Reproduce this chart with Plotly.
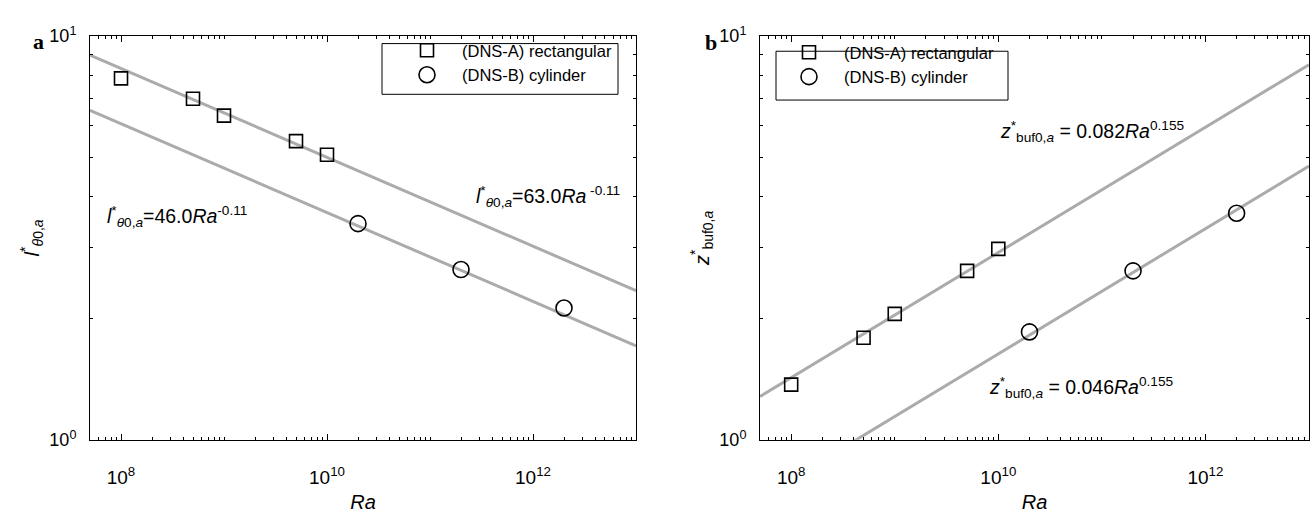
import numpy as np
import plotly.graph_objects as go

# Rayleigh numbers of the two simulation campaigns
ra_rect = [1e8, 5e8, 1e9, 5e9, 1e10]
ra_cyl = [2e10, 2e11, 2e12]

# panel a: thermal length scale l*_{theta0,a}
l_rect = [7.85, 6.99, 6.35, 5.49, 5.08]
l_cyl = [3.43, 2.64, 2.12]

# panel b: buffer-layer height z*_{buf0,a}
z_rect = [1.37, 1.79, 2.05, 2.62, 2.97]
z_cyl = [1.85, 2.62, 3.64]

# power-law fits  c * Ra^p
l_fit_coef = [63.0, 46.0]
l_fit_exp = -0.11
z_fit_coef = [0.082, 0.046]
z_fit_exp = 0.155

ra_span = [5e7, 1e13]

x_ticks = [1e8, 1e10, 1e12]
x_ticktext = ["10<sup>8</sup>", "10<sup>10</sup>", "10<sup>12</sup>"]
y_ticks = [1, 10]
y_ticktext = ["10<sup>0</sup>", "10<sup>1</sup>"]

x_minor = [m * 10.0 ** k for k in range(7, 13) for m in range(1, 10)
           if 5e7 <= m * 10.0 ** k <= 1e13 and m * 10.0 ** k not in x_ticks]
y_minor = [float(m) for m in range(2, 10)]

W, H = 1313, 513
FONT = "Liberation Sans, Arial, sans-serif"
GREY = "#ababab"


def px_x(p):
    return p / W


def px_y(p):
    return 1 - p / H


fig = go.Figure()

span = np.array(ra_span)
for ax, coefs, expo in (("", l_fit_coef, l_fit_exp), ("2", z_fit_coef, z_fit_exp)):
    for c in coefs:
        fig.add_trace(go.Scatter(
            x=span, y=c * span ** expo, mode="lines",
            line=dict(color=GREY, width=3), showlegend=False,
            xaxis="x" + ax, yaxis="y" + ax, hoverinfo="skip"))

square = dict(symbol="square-open", size=13, color="black", line=dict(width=1.6, color="black"))
circle = dict(symbol="circle-open", size=16, color="black", line=dict(width=1.6, color="black"))

fig.add_trace(go.Scatter(x=ra_rect, y=l_rect, mode="markers", marker=square,
                         name="(DNS-A) rectangular", legend="legend"))
fig.add_trace(go.Scatter(x=ra_cyl, y=l_cyl, mode="markers", marker=circle,
                         name="(DNS-B) cylinder", legend="legend"))
fig.add_trace(go.Scatter(x=ra_rect, y=z_rect, mode="markers", marker=square,
                         name="(DNS-A) rectangular", legend="legend2",
                         xaxis="x2", yaxis="y2"))
fig.add_trace(go.Scatter(x=ra_cyl, y=z_cyl, mode="markers", marker=circle,
                         name="(DNS-B) cylinder", legend="legend2",
                         xaxis="x2", yaxis="y2"))

y_dom = [px_y(447), px_y(25)]
xa = dict(type="log", range=[np.log10(ra_span[0]), np.log10(ra_span[1])],
          tickvals=x_ticks, ticktext=x_ticktext, ticks="inside", ticklen=6,
          tickcolor="black", showline=True, linecolor="black", linewidth=1,
          mirror="ticks", showgrid=False, zeroline=False,
          tickfont=dict(family=FONT, size=19, color="black"),
          ticklabelstandoff=20,
          minor=dict(tickvals=x_minor, ticks="inside", ticklen=3, tickcolor="black",
                     showgrid=False),
          title=dict(text="<i>Ra</i>", font=dict(family=FONT, size=20, color="black"),
                     standoff=8))
ya = dict(type="log", range=[0, 1], tickvals=y_ticks, ticktext=y_ticktext,
          ticks="inside", ticklen=6, tickcolor="black", showline=True,
          linecolor="black", linewidth=1, mirror="ticks", showgrid=False,
          zeroline=False, tickfont=dict(family=FONT, size=18, color="black"),
          ticklabelstandoff=9,
          minor=dict(tickvals=y_minor, ticks="inside", ticklen=3, tickcolor="black",
                     showgrid=False))

fig.update_layout(
    width=W, height=H, margin=dict(l=0, r=0, t=0, b=0),
    paper_bgcolor="white", plot_bgcolor="white",
    font=dict(family=FONT, color="black"),
    xaxis=dict(xa, domain=[px_x(90), px_x(636)], anchor="y"),
    yaxis=dict(ya, domain=y_dom, anchor="x",
               title=dict(text="<i>l</i><sup>*</sup><sub><i>θ</i>0,<i>a</i></sub>",
                          font=dict(family=FONT, size=20, color="black"), standoff=4)),
    xaxis2=dict(xa, domain=[px_x(760), px_x(1309)], anchor="y2"),
    yaxis2=dict(ya, domain=y_dom, anchor="x2",
                title=dict(text="<i>z</i><sup>*</sup><sub>buf0,<i>a</i></sub>",
                           font=dict(family=FONT, size=20, color="black"), standoff=4)),
    legend=dict(x=px_x(392), y=px_y(22), xanchor="left", yanchor="top",
                bgcolor="rgba(0,0,0,0)", borderwidth=0, itemwidth=60,
                font=dict(family=FONT, size=16.5, color="black"), tracegroupgap=0),
    legend2=dict(x=px_x(774), y=px_y(24), xanchor="left", yanchor="top",
                 bgcolor="rgba(0,0,0,0)", borderwidth=0, itemwidth=60,
                 font=dict(family=FONT, size=16.5, color="black"), tracegroupgap=0),
    shapes=[
        dict(type="rect", xref="paper", yref="paper", x0=px_x(382), x1=px_x(618),
             y0=px_y(86), y1=px_y(33), line=dict(color="black", width=1)),
        dict(type="rect", xref="paper", yref="paper", x0=px_x(776), x1=px_x(1008),
             y0=px_y(92), y1=px_y(41), line=dict(color="black", width=1)),
    ],
)

ann_font = dict(family=FONT, size=19.5, color="black")
fig.add_annotation(x=np.log10(7.0e7), y=np.log10(3.57), xref="x", yref="y",
                   xanchor="left", yanchor="middle", showarrow=False, font=ann_font,
                   text="<i>l</i><sup>*</sup><sub><i>θ</i>0,<i>a</i></sub>=46.0<i>Ra</i><sup>-0.11</sup>")
fig.add_annotation(x=np.log10(2.7e11), y=np.log10(4.0), xref="x", yref="y",
                   xanchor="left", yanchor="middle", showarrow=False, font=ann_font,
                   text="<i>l</i><sup>*</sup><sub><i>θ</i>0,<i>a</i></sub>=63.0<i>Ra</i><sup> -0.11</sup>")
fig.add_annotation(x=np.log10(1.0e10), y=np.log10(5.8), xref="x2", yref="y2",
                   xanchor="left", yanchor="middle", showarrow=False, font=ann_font,
                   text="<i>z</i><sup>*</sup><sub>buf0,<i>a</i></sub> = 0.082<i>Ra</i><sup>0.155</sup>")
fig.add_annotation(x=np.log10(7.8e9), y=np.log10(1.35), xref="x2", yref="y2",
                   xanchor="left", yanchor="middle", showarrow=False, font=ann_font,
                   text="<i>z</i><sup>*</sup><sub>buf0,<i>a</i></sub> = 0.046<i>Ra</i><sup>0.155</sup>")

# panel letters
fig.add_annotation(x=px_x(31), y=px_y(16), xref="paper", yref="paper", showarrow=False,
                   text="<b>a</b>", font=dict(family="Liberation Serif, serif", size=22, color="black"))
fig.add_annotation(x=px_x(711), y=px_y(17), xref="paper", yref="paper", showarrow=False,
                   text="<b>b</b>", font=dict(family="Liberation Serif, serif", size=22, color="black"))

fig.write_html("out.html")
